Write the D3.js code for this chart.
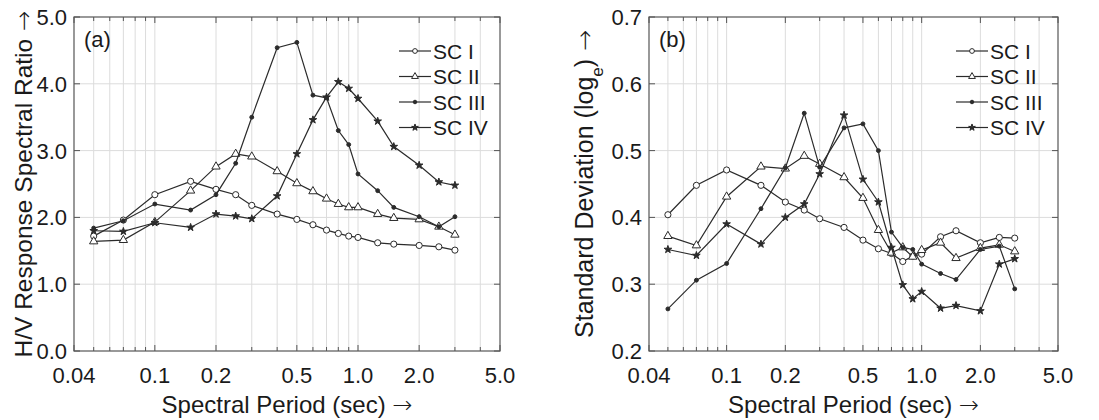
<!DOCTYPE html>
<html>
<head>
<meta charset="utf-8">
<script src="https://cdn.jsdelivr.net/npm/d3@7"></script>
<style>
  body { margin: 0; background: #fff; }
  text { font-family: "Liberation Sans", Arial, sans-serif; fill: #1a1a1a; }
  .arrow { font-family: "DejaVu Sans", sans-serif; font-weight: 200; }
</style>
</head>
<body>
<script>
// spectral periods (sec)
const periods = [0.05, 0.07, 0.1, 0.15, 0.2, 0.25, 0.3, 0.4, 0.5, 0.6, 0.7, 0.8, 0.9, 1.0, 1.25, 1.5, 2.0, 2.5, 3.0];

const seriesNames = ["SC I", "SC II", "SC III", "SC IV"];

// (a) H/V response spectral ratio
const hvSC1 = [1.72, 1.96, 2.34, 2.54, 2.42, 2.34, 2.18, 2.05, 1.97, 1.89, 1.81, 1.76, 1.72, 1.70, 1.62, 1.60, 1.58, 1.56, 1.51];
const hvSC2 = [1.64, 1.66, 1.93, 2.40, 2.76, 2.95, 2.91, 2.69, 2.51, 2.39, 2.28, 2.20, 2.15, 2.15, 2.05, 1.99, 1.97, 1.86, 1.74];
const hvSC3 = [1.84, 1.95, 2.20, 2.11, 2.34, 2.81, 3.50, 4.54, 4.62, 3.83, 3.79, 3.30, 3.09, 2.65, 2.40, 2.15, 2.01, 1.86, 2.01];
const hvSC4 = [1.80, 1.79, 1.92, 1.85, 2.05, 2.02, 1.98, 2.32, 2.95, 3.46, 3.80, 4.03, 3.93, 3.78, 3.44, 3.06, 2.78, 2.53, 2.48];

// (b) standard deviation (log_e)
const sdSC1 = [0.404, 0.448, 0.471, 0.448, 0.423, 0.411, 0.398, 0.385, 0.366, 0.353, 0.346, 0.334, 0.342, 0.345, 0.371, 0.380, 0.362, 0.370, 0.369];
const sdSC2 = [0.372, 0.358, 0.431, 0.476, 0.473, 0.492, 0.480, 0.460, 0.429, 0.381, 0.347, 0.355, 0.341, 0.351, 0.362, 0.339, 0.354, 0.359, 0.349];
const sdSC3 = [0.263, 0.306, 0.331, 0.413, 0.474, 0.556, 0.475, 0.534, 0.540, 0.500, 0.378, 0.355, 0.352, 0.330, 0.316, 0.307, 0.352, 0.357, 0.293];
const sdSC4 = [0.352, 0.343, 0.390, 0.360, 0.400, 0.420, 0.465, 0.553, 0.457, 0.423, 0.355, 0.299, 0.278, 0.289, 0.264, 0.268, 0.260, 0.330, 0.338];

// tick labels
const xTicks = [0.04, 0.1, 0.2, 0.5, 1, 2, 5];
const xTickLabels = ["0.04", "0.1", "0.2", "0.5", "1.0", "2.0", "5.0"];
const xGrid = [0.05, 0.06, 0.07, 0.08, 0.09, 0.1, 0.2, 0.3, 0.4, 0.5, 0.6, 0.7, 0.8, 0.9, 1, 2, 3, 4];
const hvTicks = [0, 1, 2, 3, 4, 5];
const hvTickLabels = ["0.0", "1.0", "2.0", "3.0", "4.0", "5.0"];
const sdTicks = [0.2, 0.3, 0.4, 0.5, 0.6, 0.7];
const sdTickLabels = ["0.2", "0.3", "0.4", "0.5", "0.6", "0.7"];

const W = 1099, H = 420;
const lineColor = "#2b2b2b";

const svg = d3.select("body").append("svg").attr("width", W).attr("height", H);

// marker shapes per series (plot size, legend size)
const markers = [
  { type: d3.symbolCircle, size: 30, legSize: 18, fill: "#fff" },
  { type: d3.symbolTriangle, size: 30, legSize: 20, fill: "#fff" },
  { type: d3.symbolCircle, size: 12, legSize: 10, fill: lineColor },
  { type: d3.symbolStar, size: 18, legSize: 14, fill: lineColor }
];

function drawPanel(p) {
  let x = d3.scaleLog().domain([0.04, 5]).range([p.left, p.right]);
  let y = d3.scaleLinear().domain(p.yDomain).range([p.bottom, p.top]);
  let g = svg.append("g");

  // grid
  g.selectAll(".vgrid").data(xGrid).enter().append("line")
    .attr("x1", d => x(d)).attr("x2", d => x(d))
    .attr("y1", p.top).attr("y2", p.bottom)
    .attr("stroke", "#dcdcdc").attr("stroke-width", 1);
  g.selectAll(".hgrid").data(p.yTicks.slice(1, -1)).enter().append("line")
    .attr("x1", p.left).attr("x2", p.right)
    .attr("y1", d => y(d)).attr("y2", d => y(d))
    .attr("stroke", "#dcdcdc").attr("stroke-width", 1);

  // inward ticks on all sides
  let allX = xGrid.concat([0.04, 5]);
  allX.forEach(function(d) {
    let len = xTicks.indexOf(d) >= 0 ? 6 : 4;
    g.append("line").attr("x1", x(d)).attr("x2", x(d)).attr("y1", p.top).attr("y2", p.top + len).attr("stroke", "#555");
    g.append("line").attr("x1", x(d)).attr("x2", x(d)).attr("y1", p.bottom).attr("y2", p.bottom - len).attr("stroke", "#555");
  });
  p.yTicks.forEach(function(d) {
    g.append("line").attr("x1", p.left).attr("x2", p.left + 6).attr("y1", y(d)).attr("y2", y(d)).attr("stroke", "#555");
    g.append("line").attr("x1", p.right).attr("x2", p.right - 6).attr("y1", y(d)).attr("y2", y(d)).attr("stroke", "#555");
  });

  // box
  g.append("rect").attr("x", p.left).attr("y", p.top)
    .attr("width", p.right - p.left).attr("height", p.bottom - p.top)
    .attr("fill", "none").attr("stroke", "#555").attr("stroke-width", 1.2);

  // tick labels
  g.selectAll(".xlab").data(xTicks).enter().append("text")
    .attr("x", d => x(d)).attr("y", p.bottom + 32)
    .attr("text-anchor", "middle").style("font-size", "22px")
    .text((d, i) => xTickLabels[i]);
  g.selectAll(".ylab").data(p.yTicks).enter().append("text")
    .attr("x", p.left - 7).attr("y", d => y(d)).attr("dy", "0.36em")
    .attr("text-anchor", "end").style("font-size", "22px")
    .text((d, i) => p.yTickLabels[i]);

  // axis titles
  let xt = g.append("text").attr("x", (p.left + p.right) / 2).attr("y", 413)
    .attr("text-anchor", "middle").style("font-size", "24px");
  xt.append("tspan").text("Spectral Period (sec) ");
  xt.append("tspan").attr("class", "arrow").text("\u2192");
  let yt = g.append("text")
    .attr("transform", "translate(" + p.yTitleX + "," + ((p.top + p.bottom) / 2) + ") rotate(-90)")
    .attr("text-anchor", "middle").style("font-size", p.yTitleSize);
  p.yTitle(yt);
  yt.append("tspan").attr("class", "arrow").text(" \u2192");

  // panel tag
  g.append("text").attr("x", p.left + 10).attr("y", p.top + 30).style("font-size", "22px").text(p.tag);

  // series
  let line = d3.line().x(d => x(d[0])).y(d => y(d[1]));
  p.series.forEach(function(vals, k) {
    let pts = periods.map((t, i) => [t, vals[i]]);
    g.append("path").datum(pts).attr("d", line)
      .attr("fill", "none").attr("stroke", lineColor).attr("stroke-width", 1.2);
    let m = markers[k];
    g.selectAll(".m" + k).data(pts).enter().append("path")
      .attr("transform", d => "translate(" + x(d[0]) + "," + y(d[1]) + ")")
      .attr("d", d3.symbol().type(m.type).size(m.size))
      .attr("fill", m.fill).attr("stroke", lineColor).attr("stroke-width", 1);
  });

  // legend
  seriesNames.forEach(function(name, k) {
    let ly = p.top + 34 + k * 25.5;
    let lg = g.append("g").attr("transform", "translate(" + p.legendX + "," + ly + ")");
    lg.append("line").attr("x1", 0).attr("x2", 32).attr("y1", 0).attr("y2", 0)
      .attr("stroke", lineColor).attr("stroke-width", 1.2);
    let m = markers[k];
    lg.append("path").attr("transform", "translate(16,0)")
      .attr("d", d3.symbol().type(m.type).size(m.legSize))
      .attr("fill", m.fill).attr("stroke", lineColor).attr("stroke-width", 1);
    lg.append("text").attr("x", 34).attr("y", 0).attr("dy", "0.36em")
      .style("font-size", "21px").text(name);
  });
}

drawPanel({
  left: 74, right: 500, top: 17, bottom: 351,
  yDomain: [0, 5], yTicks: hvTicks, yTickLabels: hvTickLabels,
  series: [hvSC1, hvSC2, hvSC3, hvSC4],
  tag: "(a)", legendX: 399, yTitleX: 32, yTitleSize: "24.5px",
  yTitle: t => t.append("tspan").text("H/V Response Spectral Ratio")
});

drawPanel({
  left: 649, right: 1058, top: 17, bottom: 351,
  yDomain: [0.2, 0.7], yTicks: sdTicks, yTickLabels: sdTickLabels,
  series: [sdSC1, sdSC2, sdSC3, sdSC4],
  tag: "(b)", legendX: 956, yTitleX: 593, yTitleSize: "25px",
  yTitle: function(t) {
    t.append("tspan").text("Standard Deviation (log");
    t.append("tspan").attr("baseline-shift", "sub").style("font-size", "17px").text("e");
    t.append("tspan").text(")");
  }
});
</script>
</body>
</html>
